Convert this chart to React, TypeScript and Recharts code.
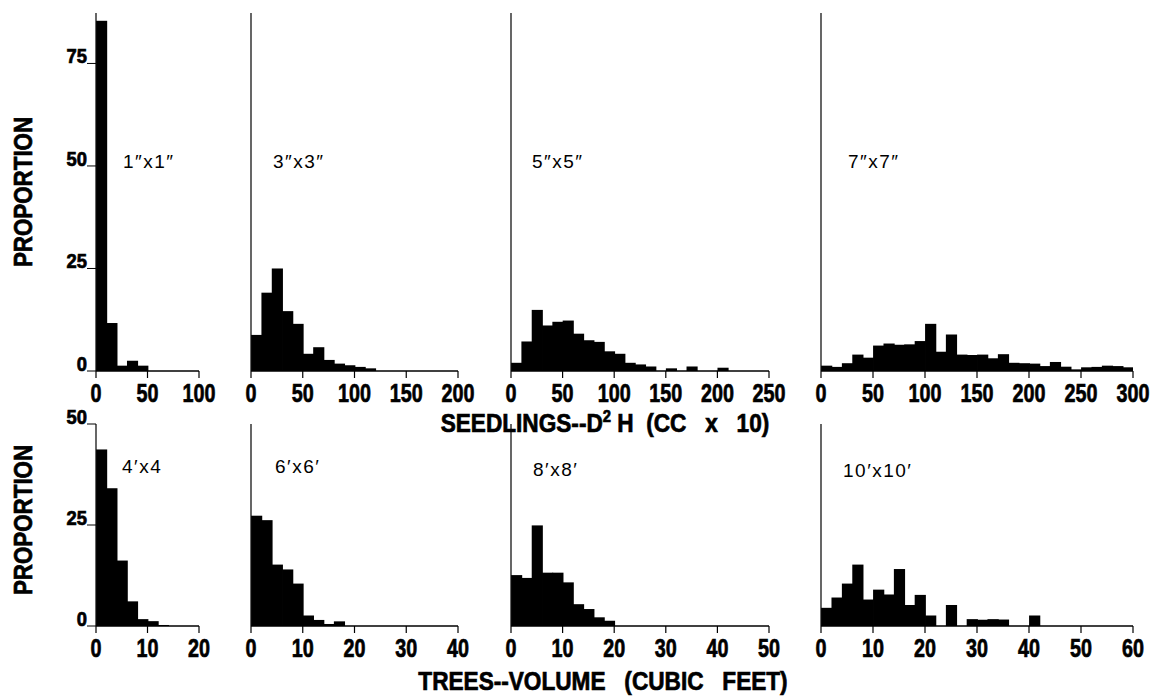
import { BarChart, Bar, XAxis, YAxis } from 'recharts'

// proportions (%) per class
const seedBin = 10
const treeBin = 2

const seed1x1 = [85.4, 11.7, 1.3, 2.5, 1.3, 0, 0, 0, 0, 0]
const seed3x3 = [8.8, 19.1, 25.0, 14.6, 11.5, 4.2, 5.8, 2.7, 1.8, 1.4, 1.0, 0.65, 0, 0, 0, 0, 0, 0, 0, 0]
const seed5x5 = [2.0, 7.2, 14.9, 11.1, 12.0, 12.3, 9.1, 7.5, 7.1, 4.8, 4.2, 2.0, 1.6, 1.1, 0, 0.65, 0, 1.1, 0, 0, 0.8, 0, 0, 0, 0]
const seed7x7 = [1.3, 1.0, 1.9, 4.0, 3.25, 6.2, 6.7, 6.4, 6.5, 7.3, 11.5, 4.7, 8.9, 4.0, 3.9, 4.0, 3.1, 4.1, 2.0, 1.9, 1.8, 1.2, 2.2, 1.05, 0.4, 0.9, 1.0, 1.3, 1.2, 0.9]

const tree4x4 = [43.7, 34.1, 16.2, 6.1, 1.7, 1.2, 0.25, 0, 0, 0]
const tree6x6 = [27.3, 26.2, 15.2, 14.0, 10.5, 2.6, 1.5, 0.5, 1.15, 0, 0, 0, 0, 0, 0, 0, 0, 0, 0, 0]
const tree8x8 = [12.6, 11.9, 24.9, 13.2, 13.2, 10.8, 5.4, 4.2, 2.15, 1.3, 0, 0, 0, 0, 0, 0, 0, 0, 0, 0, 0, 0, 0, 0, 0]
const tree10x10 = [4.5, 7.05, 10.5, 15.2, 6.55, 9.0, 7.8, 14.1, 5.2, 7.7, 2.6, 0, 5.2, 0, 1.7, 1.55, 1.7, 1.6, 0, 0, 2.6, 0, 0, 0, 0, 0, 0, 0, 0, 0]

const seedLabels = ['1″x1″', '3″x3″', '5″x5″', '7″x7″']
const treeLabels = ['4′x4', '6′x6′', '8′x8′', '10′x10′']

const seedXTicks = [
  [0, 50, 100],
  [0, 50, 100, 150, 200],
  [0, 50, 100, 150, 200, 250],
  [0, 50, 100, 150, 200, 250, 300],
]
const treeXTicks = [
  [0, 10, 20],
  [0, 10, 20, 30, 40],
  [0, 10, 20, 30, 40, 50],
  [0, 10, 20, 30, 40, 50, 60],
]
const seedYTicks = [0, 25, 50, 75]
const treeYTicks = [0, 25, 50]

// layout
const colX = [96, 251, 510.5, 821]
const colW = [103, 207, 258, 312]
const topRow = { top: 13, h: 358, yMax: 87.3 }
const botRow = { top: 424, h: 202, yMax: 50 }
const labelPos = [
  [123, 168], [273, 168], [532, 168], [848, 168],
  [122, 473], [275, 473], [533, 476], [843, 477],
]

const BOLD = "'Liberation Sans', Arial, sans-serif"
const PLAIN = "'Liberation Sans', Arial, sans-serif"

// condensed heavy text: the printed figure uses a narrow black gothic face
const Cond = ({ x, y, sx, size, anchor = 'middle', rotate = 0, children }: any) => (
  <text
    transform={`translate(${x},${y}) rotate(${rotate}) scale(${sx},1)`}
    textAnchor={anchor}
    fontFamily={BOLD}
    fontWeight={700}
    fontSize={size}
    fill="#000"
    stroke="#000"
    strokeWidth={0.7}
    style={{ whiteSpace: 'pre' }}
  >
    {children}
  </text>
)

const XTick = (p: any) => (
  <Cond x={p.x} y={p.y + 24} sx={0.76} size={26}>{p.payload.value}</Cond>
)

const YTick = (p: any) => (
  <Cond x={p.x} y={p.y} sx={0.92} size={20} anchor="end">{p.payload.value}</Cond>
)

type PanelProps = {
  values: number[]
  bin: number
  xTicks: number[]
  yTicks: number[]
  yMax: number
  showY: boolean
  left: number
  width: number
  top: number
  height: number
}

function Panel({ values, bin, xTicks, yTicks, yMax, showY, left, width, top, height }: PanelProps) {
  const xMax = xTicks[xTicks.length - 1]
  const data = values.map((v, i) => ({ mid: i * bin + bin / 2, v }))
  const binPx = (width * bin) / xMax
  const ML = 60, MT = 30, MB = 50, MR = 30
  // recharts floors bar widths; redraw each class full-width around its centre
  // so neighbouring classes join into one solid silhouette
  const solid = (p: any) => {
    if (!p.height) return <g />
    const cx = p.x + p.width / 2
    return <rect x={cx - binPx / 2 - 0.4} y={p.y} width={binPx + 0.8} height={p.height} fill="#000" />
  }
  return (
    <div style={{ position: 'absolute', left: left - ML, top: top - MT }}>
      <BarChart
        width={width + ML + MR}
        height={height + MT + MB}
        data={data}
        margin={{ top: MT, right: MR, bottom: 0, left: 0 }}
        barCategoryGap={0}
        barGap={0}
      >
        <XAxis
          type="number"
          dataKey="mid"
          domain={[0, xMax]}
          ticks={xTicks}
          interval={0}
          allowDataOverflow
          height={MB}
          tickSize={7}
          tickMargin={0}
          axisLine={{ stroke: '#000', strokeWidth: 1.4 }}
          tickLine={{ stroke: '#000', strokeWidth: 1.2 }}
          tick={(p: any) => <XTick {...p} />}
        />
        <YAxis
          type="number"
          domain={[0, yMax]}
          ticks={yTicks}
          interval={0}
          allowDataOverflow
          width={ML}
          tickSize={9}
          tickMargin={0}
          axisLine={{ stroke: '#000', strokeWidth: 1.2 }}
          tickLine={{ stroke: '#000', strokeWidth: 1 }}
          tick={showY ? (p: any) => <YTick {...p} /> : false}
        />
        <Bar
          dataKey="v"
          fill="#000"
          barSize={binPx}
          shape={solid}
          isAnimationActive={false}
        />
      </BarChart>
    </div>
  )
}

export default function App() {
  const seeds = [seed1x1, seed3x3, seed5x5, seed7x7]
  const trees = [tree4x4, tree6x6, tree8x8, tree10x10]
  const labels = [...seedLabels, ...treeLabels]
  return (
    <div style={{ position: 'absolute', left: 0, top: 0, width: 1154, height: 696, background: '#fff', overflow: 'hidden' }}>
      <svg width={1154} height={696} style={{ position: 'absolute', left: 0, top: 0 }}>
        <Cond x={32} y={192} sx={0.86} size={26} rotate={-90}>PROPORTION</Cond>
        <Cond x={32} y={520} sx={0.86} size={26} rotate={-90}>PROPORTION</Cond>
        <Cond x={605} y={432} sx={0.87} size={26}>
          SEEDLINGS--D<tspan dy={-10} fontSize={17}>2</tspan>
          <tspan dy={10}>{' H  (CC   x   10)'}</tspan>
        </Cond>
        <Cond x={603} y={690} sx={0.87} size={26}>{'TREES--VOLUME   (CUBIC   FEET)'}</Cond>
        <g fontFamily={PLAIN} fontSize={19} fill="#000" letterSpacing={1.5}>
          {labels.map((t, i) => (
            <text key={t} x={labelPos[i][0]} y={labelPos[i][1]}>{t}</text>
          ))}
        </g>
      </svg>
      {seeds.map((vals, i) => (
        <Panel
          key={'s' + i}
          values={vals}
          bin={seedBin}
          xTicks={seedXTicks[i]}
          yTicks={seedYTicks}
          yMax={topRow.yMax}
          showY={i === 0}
          left={colX[i]}
          width={colW[i]}
          top={topRow.top}
          height={topRow.h}
        />
      ))}
      {trees.map((vals, i) => (
        <Panel
          key={'t' + i}
          values={vals}
          bin={treeBin}
          xTicks={treeXTicks[i]}
          yTicks={treeYTicks}
          yMax={botRow.yMax}
          showY={i === 0}
          left={colX[i]}
          width={colW[i]}
          top={botRow.top}
          height={botRow.h}
        />
      ))}
    </div>
  )
}
